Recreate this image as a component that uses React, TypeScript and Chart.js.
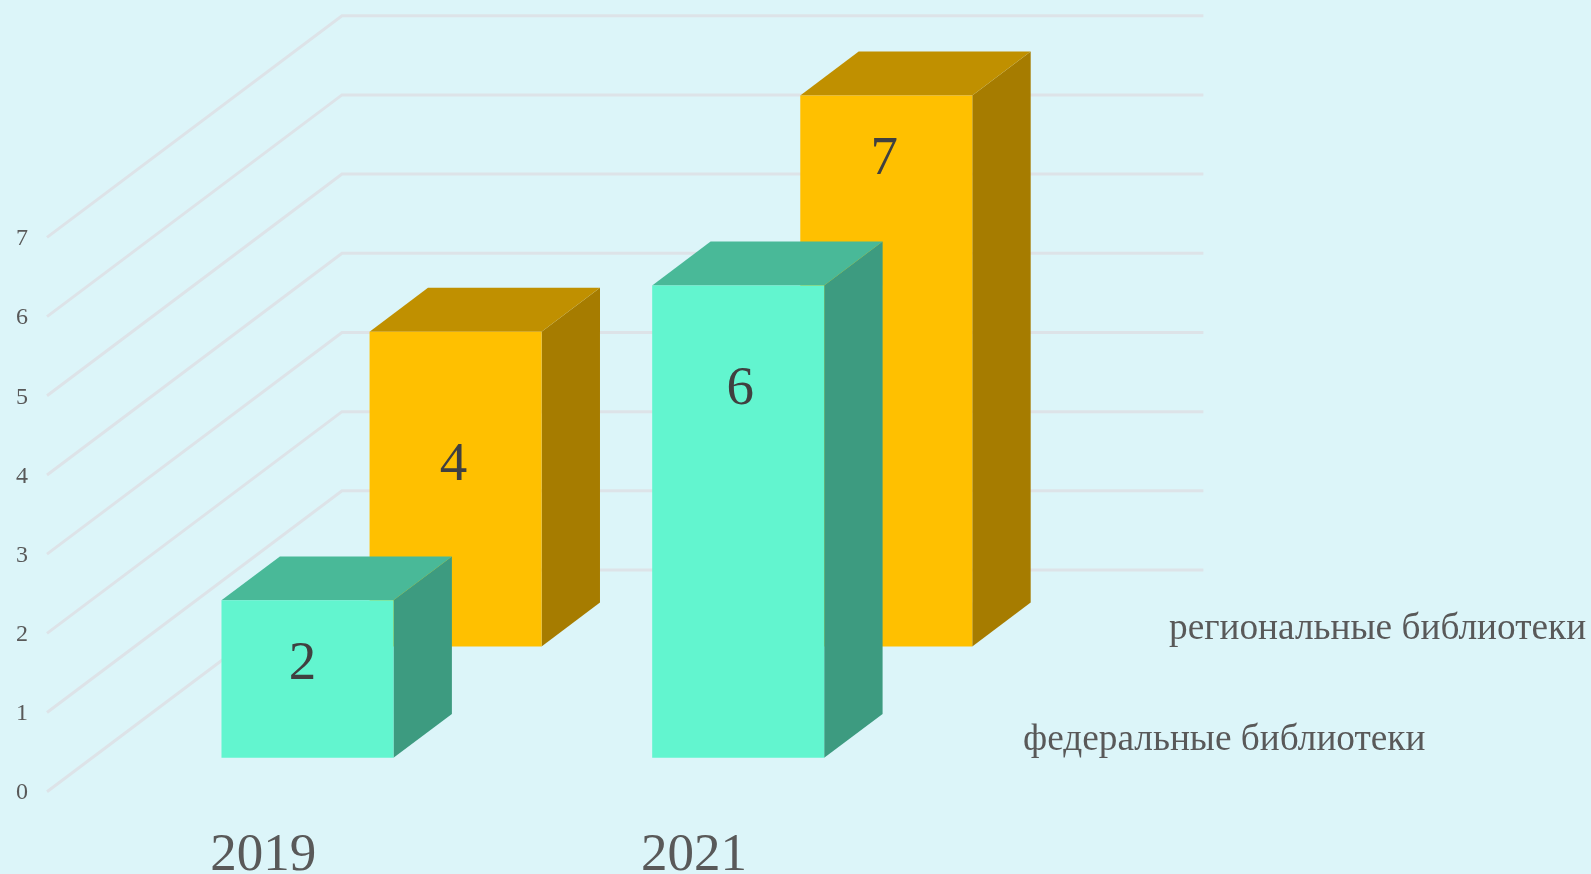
import React, { useEffect, useRef } from "react";
import { Chart, registerables } from "chart.js";

Chart.register(...registerables);

const years = ["2019", "2021"];
const federal = [2, 6];
const regional = [4, 7];
const seriesNames = ["федеральные библиотеки", "региональные библиотеки"];
const yTicks = [0, 1, 2, 3, 4, 5, 6, 7];

const W = 1591;
const H = 874;
const BG = "#dcf5f9";
const DEPTH_X = 295;
const DEPTH_Y = 221.7;
const SERIES_STYLE = [
  { z: 0.153, bar: 0.994, front: "#62f5cf", top: "#49b998", side: "#3d9b80", labelAt: [0.405, 0.22], labelNudge: [-5, 2], nameX: 1023, nameY: 740 },
  { z: 0.655, bar: 0.994, front: "#ffc000", top: "#c09000", side: "#a67c00", labelAt: [0.425, 0.116], labelNudge: [-2, -2], nameX: 1169, nameY: 629 },
];
const BAR_DEPTH = 0.198;
const SERIF = "'Liberation Serif', serif";

const chart3d = {
  id: "chart3d",
  beforeDatasetsDraw(chart: any) {
    const { ctx, scales, chartArea } = chart;
    ctx.save();
    ctx.strokeStyle = "#dde3e8";
    ctx.lineWidth = 3;
    yTicks.forEach((v) => {
      const y = scales.y.getPixelForValue(v);
      ctx.beginPath();
      ctx.moveTo(chartArea.left, y);
      ctx.lineTo(chartArea.left + DEPTH_X, y - DEPTH_Y);
      ctx.lineTo(chartArea.right + DEPTH_X, y - DEPTH_Y);
      ctx.stroke();
    });
    ctx.restore();
  },
  beforeDatasetDraw(chart: any, args: any) {
    const { ctx } = chart;
    const s = SERIES_STYLE[args.index];
    const dx = s.z * DEPTH_X;
    const dy = s.z * DEPTH_Y;
    const ddx = BAR_DEPTH * DEPTH_X;
    const ddy = BAR_DEPTH * DEPTH_Y;
    ctx.save();
    args.meta.data.forEach((el: any) => {
      const l = el.x - el.width / 2 + dx;
      const r = el.x + el.width / 2 + dx;
      const b = el.base - dy;
      const t = b - (el.base - el.y) * s.bar;
      const poly = (c: string, pts: number[][]) => {
        ctx.fillStyle = c;
        ctx.beginPath();
        pts.forEach((p, i) => (i ? ctx.lineTo(p[0], p[1]) : ctx.moveTo(p[0], p[1])));
        ctx.closePath();
        ctx.fill();
      };
      poly(s.side, [[r, t], [r + ddx, t - ddy], [r + ddx, b - ddy], [r, b]]);
      poly(s.top, [[l, t], [l + ddx, t - ddy], [r + ddx, t - ddy], [r, t]]);
      poly(s.front, [[l, t], [r, t], [r, b], [l, b]]);
    });
    ctx.restore();
    return false;
  },
  afterDatasetsDraw(chart: any) {
    const { ctx } = chart;
    ctx.save();
    ctx.textAlign = "center";
    ctx.textBaseline = "middle";
    ctx.fillStyle = "#404040";
    ctx.font = `55px ${SERIF}`;
    chart.data.datasets.forEach((ds: any, di: number) => {
      const s = SERIES_STYLE[di];
      chart.getDatasetMeta(di).data.forEach((el: any, i: number) => {
        const b = el.base - s.z * DEPTH_Y;
        const h = (el.base - el.y) * s.bar;
        ctx.fillText(String(ds.data[i]), el.x + s.z * DEPTH_X + s.labelNudge[i], b - h + h * s.labelAt[i]);
      });
    });
    ctx.textAlign = "left";
    ctx.fillStyle = "#595959";
    ctx.font = `37.3px ${SERIF}`;
    chart.data.datasets.forEach((ds: any, di: number) => {
      const s = SERIES_STYLE[di];
      ctx.fillText(ds.label, s.nameX, s.nameY);
    });
    ctx.restore();
  },
};

export default function App() {
  const ref = useRef<HTMLCanvasElement>(null);
  useEffect(() => {
    document.body.style.margin = "0";
    document.body.style.background = BG;
    const chart = new Chart(ref.current as any, {
      type: "bar",
      data: {
        labels: years,
        datasets: [
          { label: seriesNames[0], data: federal, backgroundColor: SERIES_STYLE[0].front, grouped: false, barThickness: 172 } as any,
          { label: seriesNames[1], data: regional, backgroundColor: SERIES_STYLE[1].front, grouped: false, barThickness: 172 } as any,
        ],
      },
      options: {
        responsive: false,
        animation: false,
        layout: { padding: { top: 237.4, right: 682.6, left: 0, bottom: 0 } },
        plugins: { legend: { display: false }, tooltip: { enabled: false }, title: { display: false } },
        scales: {
          x: {
            grid: { display: false, drawTicks: false },
            border: { display: false },
            ticks: { color: "#595959", font: { family: SERIF, size: 53 }, padding: 33, labelOffset: 1, maxRotation: 0, autoSkip: false },
            afterFit: (s: any) => { s.height = 82.3; },
          },
          y: {
            min: 0,
            max: 7,
            grid: { display: false, drawTicks: false },
            border: { display: false },
            ticks: { stepSize: 1, color: "#595959", font: { family: SERIF, size: 24 }, padding: 19, labelOffset: 1.5 },
            afterFit: (s: any) => { s.width = 47; },
          },
        },
      } as any,
      plugins: [chart3d as any],
    });
    return () => chart.destroy();
  }, []);
  return (
    <div style={{ position: "absolute", left: 0, top: 0, width: W, height: H, background: BG, overflow: "hidden" }}>
      <canvas ref={ref} width={W} height={H} style={{ display: "block" }} />
    </div>
  );
}
